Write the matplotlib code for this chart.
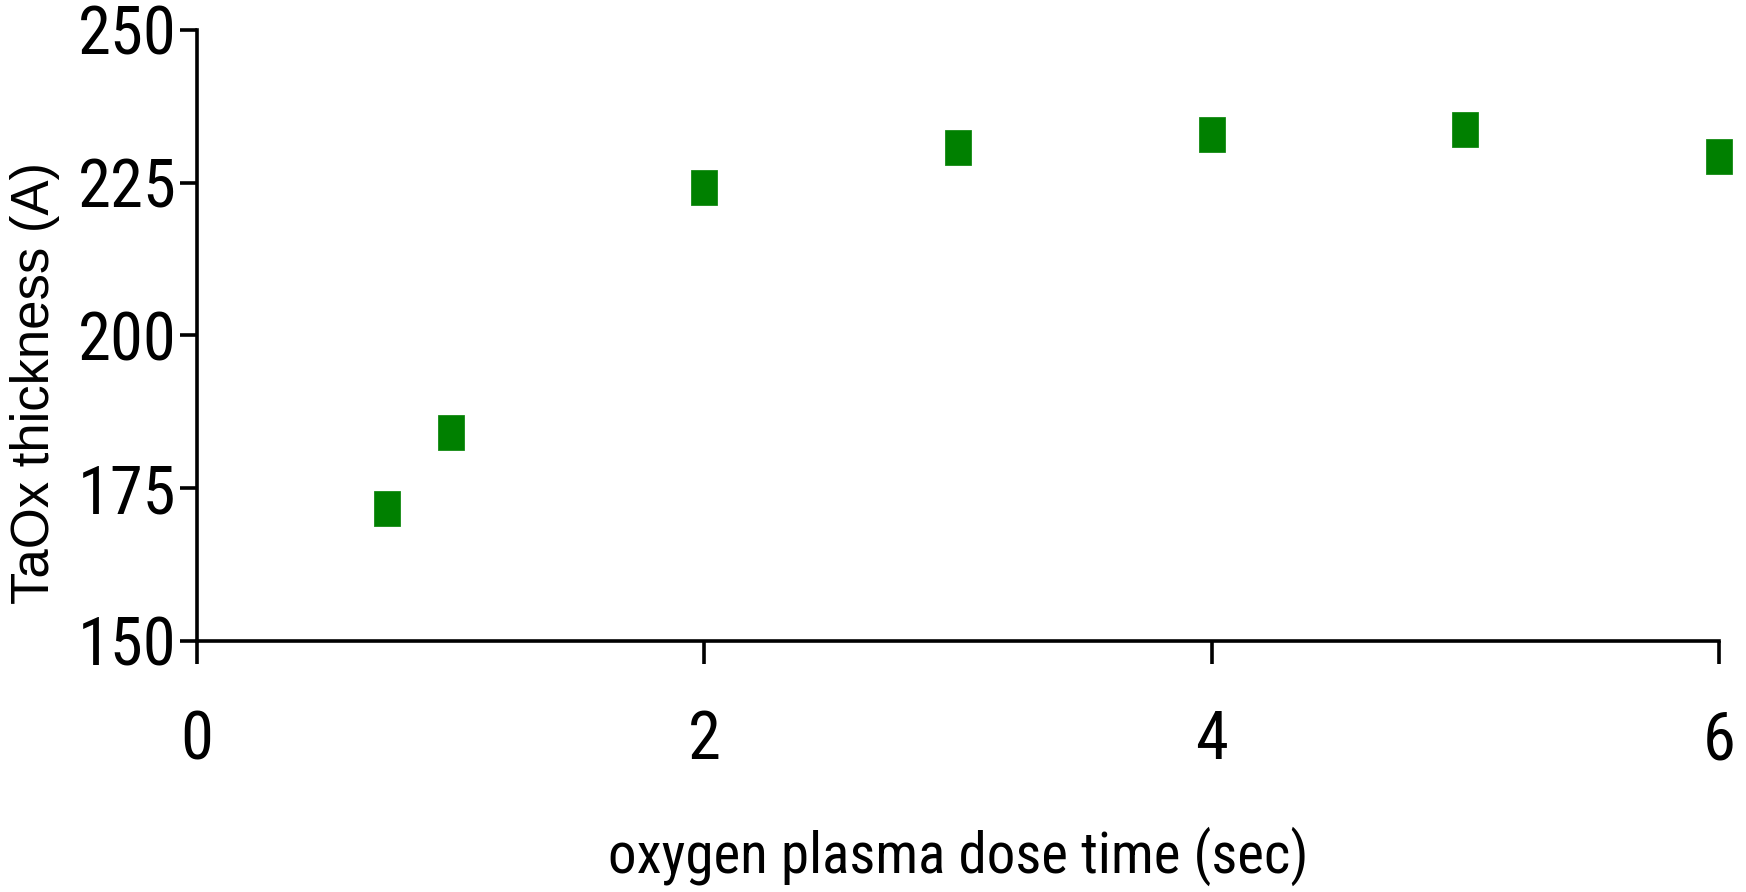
import matplotlib
matplotlib.use("Agg")
import matplotlib.pyplot as plt
from matplotlib import font_manager
from matplotlib.font_manager import FontProperties

dose_time = [0.75, 1.0, 2.0, 3.0, 4.0, 5.0, 6.0]
thickness = [171.8, 184.2, 224.3, 230.8, 233.0, 233.8, 229.4]
x_ticks = [0, 2, 4, 6]
y_ticks = [150, 175, 200, 225, 250]

# pick a condensed sans font if one is installed
cond_path = None
pref = ['Liberation Sans Narrow', 'Roboto Condensed', 'Noto Sans Condensed',
        'Open Sans Condensed', 'DejaVu Sans Condensed', 'DejaVu Sans', 'Noto Sans', 'Roboto']
found = {}
for f in font_manager.fontManager.ttflist:
    st = str(f.stretch).lower()
    if f.style != 'normal' or f.weight not in (400, 'normal', 'regular'):
        continue
    if 'condensed' in st and 'semi' not in st and 'extra' not in st and 'ultra' not in st or \
            'Narrow' in f.name or 'Condensed' in f.name:
        if 'semi' in f.fname.lower() or 'bold' in f.fname.lower() or 'light' in f.fname.lower():
            continue
        found.setdefault(f.name, f.fname)
for n in pref:
    if n in found:
        cond_path = found[n]
        break
if cond_path is None and found:
    cond_path = sorted(found.values())[0]

if cond_path:
    tick_fp = FontProperties(fname=cond_path, size=48)
    xl_fp = FontProperties(fname=cond_path, size=41)
else:
    tick_fp = FontProperties(family=['Liberation Sans', 'DejaVu Sans'], size=40)
    xl_fp = FontProperties(family=['Liberation Sans', 'DejaVu Sans'], size=36)
yl_fp = FontProperties(family=['Liberation Sans', 'DejaVu Sans'], size=38)

fig = plt.figure(figsize=(17.46, 8.92), dpi=100)
ax = fig.add_axes([0.1128, 0.2817, 0.9845 - 0.1128, 0.9664 - 0.2817])

marker = [(-0.37, -0.5), (0.37, -0.5), (0.37, 0.5), (-0.37, 0.5), (-0.37, -0.5)]
ax.plot(dose_time, thickness, linestyle='none', marker=marker, markersize=25.2,
        color='#008000', markeredgecolor='#008000', markeredgewidth=0.5, clip_on=False, zorder=3)

ax.set_xlim(0, 6)
ax.set_ylim(150, 250)
ax.set_xticks(x_ticks)
ax.set_yticks(y_ticks)
ax.set_xticklabels([str(v) for v in x_ticks], fontproperties=tick_fp)
ax.set_yticklabels([str(v) for v in y_ticks], fontproperties=tick_fp)

for s in ['top', 'right']:
    ax.spines[s].set_visible(False)
for s in ['left', 'bottom']:
    ax.spines[s].set_linewidth(2.6)
ax.tick_params(axis='x', direction='out', length=16.5, width=2.6, pad=33)
ax.tick_params(axis='y', direction='out', length=12.5, width=2.6, pad=2)

ax.set_xlabel('oxygen plasma dose time (sec)', fontproperties=xl_fp)
ax.xaxis.set_label_coords(0.5, -0.305)
ax.set_ylabel('TaOx thickness (A)', fontproperties=yl_fp)
ax.yaxis.set_label_coords(-0.09, 0.4225)

fig.savefig('out.png', dpi=100)
